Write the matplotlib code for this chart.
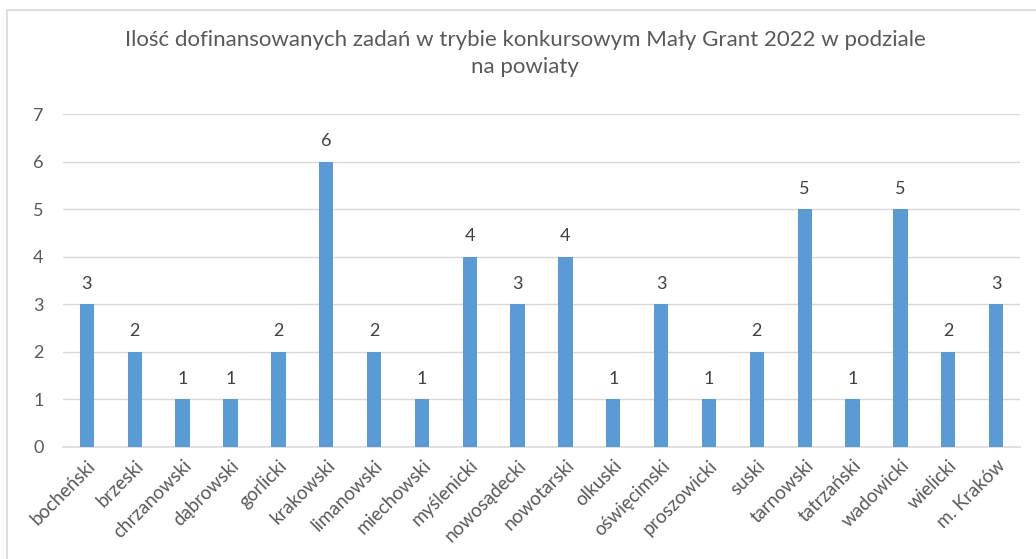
"""
Bar chart: number of co-financed tasks (Mały Grant 2022) by county
"""

import matplotlib.pyplot as plt
from matplotlib.patches import Rectangle

# data
powiaty = ["bocheński", "brzeski", "chrzanowski", "dąbrowski", "gorlicki",
           "krakowski", "limanowski", "miechowski", "myślenicki", "nowosądecki",
           "nowotarski", "olkuski", "oświęcimski", "proszowicki", "suski",
           "tarnowski", "tatrzański", "wadowicki", "wielicki", "m. Kraków"]
zadania = [3, 2, 1, 1, 2, 6, 2, 1, 4, 3, 4, 1, 3, 1, 2, 5, 1, 5, 2, 3]
y_ticks = [0, 1, 2, 3, 4, 5, 6, 7]

title = ("Ilość dofinansowanych zadań w trybie konkursowym Mały Grant 2022 w podziale\n"
         "na powiaty")

plt.rcParams['font.family'] = ['Lato', 'DejaVu Sans']
text_color = "#595959"

fig = plt.figure(figsize=(10.36, 5.59), dpi=100)
ax = fig.add_axes([0.0608, 0.2004, 0.9238, 0.5956])

# chart border like in excel
fig.patches.append(Rectangle((7 / 1036, -0.1), 1.2, 1.1 - 10 / 559,
                             transform=fig.transFigure, fill=False,
                             edgecolor="#D9D9D9", linewidth=1.2))

x = range(len(powiaty))
bars = ax.bar(x, zadania, width=0.3, color="#5B9BD5", zorder=3)
ax.bar_label(bars, padding=9, fontsize=13, color="#404040")

ax.set_xlim(-0.5, len(powiaty) - 0.5)
ax.set_ylim(0, 7)
ax.set_yticks(y_ticks)
ax.yaxis.grid(True, color="#D9D9D9", linewidth=1, zorder=0)

ax.set_xticks(list(x))
ax.set_xticklabels(powiaty, rotation=45, ha="right", rotation_mode="anchor",
                   fontsize=13.5, color=text_color)
ax.tick_params(axis="y", labelsize=13, labelcolor=text_color, length=0, pad=14)
ax.tick_params(axis="x", length=0, pad=7)

for side in ["top", "right", "left"]:
    ax.spines[side].set_visible(False)
ax.spines["bottom"].set_color("#D9D9D9")
ax.spines["bottom"].set_linewidth(1.2)

fig.text(0.507, 0.905, title, ha="center", va="center", fontsize=16,
         color=text_color, linespacing=1.45)

plt.savefig("out.png")
plt.clf()
